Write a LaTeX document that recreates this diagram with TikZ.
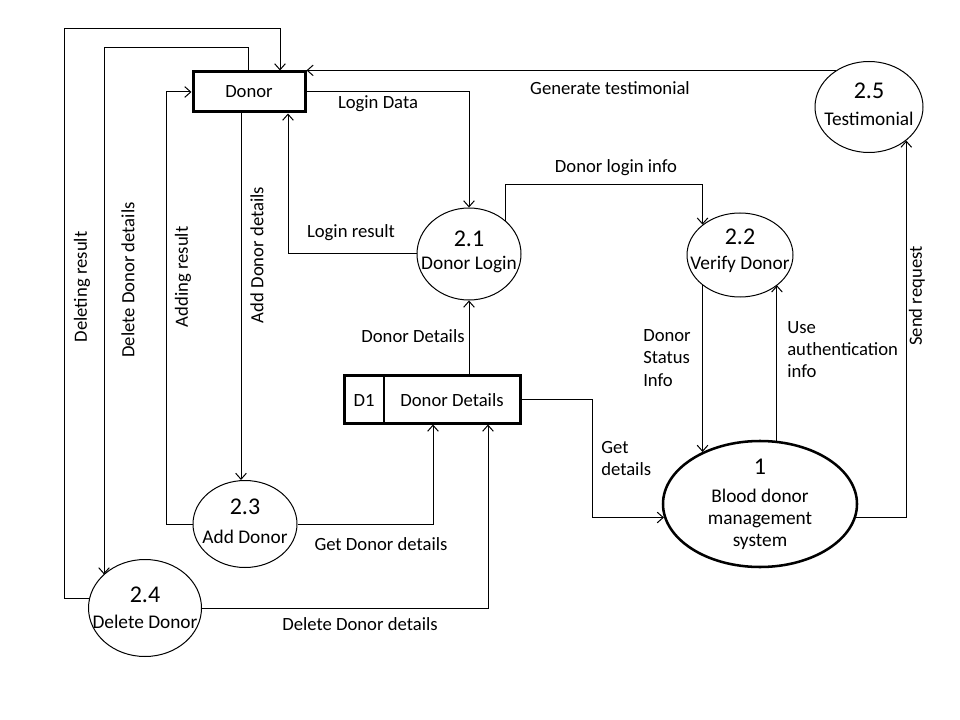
\documentclass[tikz,border=0pt]{standalone}
\usepackage{fontspec}
\setmainfont{Carlito}
\usetikzlibrary{shapes.geometric,arrows.meta,calc}
\begin{document}
\begin{tikzpicture}[x=0.75pt,y=-0.75pt,
  lbl/.style={font=\fontsize{14}{17}\selectfont, inner sep=0pt},
  ptxt/.style={font=\fontsize{14.5}{17}\selectfont, inner sep=0pt},
  pnum/.style={font=\fontsize{18}{20}\selectfont, inner sep=0pt},
  proc/.style={ellipse, draw, line width=0.75pt, inner sep=0pt},
  ent/.style={draw, line width=2.25pt, inner sep=0pt},
  flow/.style={line width=0.75pt, -{Straight Barb[length=4.5pt,width=8pt]}},
  plainline/.style={line width=0.75pt}
]
\useasboundingbox (0,0) rectangle (960,720);
\fill[white] (0,0) rectangle (960,720);

% entities and store
\node[ent, minimum width=84pt, minimum height=30pt] (Donor) at (249,92) {};
\node[lbl] (DonorT) at (249,92) {Donor};
\node[ent, minimum width=132pt, minimum height=36pt] (D1) at (432,399) {};
\draw[line width=1pt] (384,375) -- (384,423);
\node[lbl] (D1a) at (364,400) {D1};
\node[lbl] (D1b) at (452,400) {Donor Details};

% processes
\node[proc, minimum width=78pt, minimum height=69pt] (d21) at (469,254) {};
\node[pnum] (d21n) at (469,239) {2.1};
\node[ptxt] (d21t) at (469,265) {Donor Login};

\node[proc, minimum width=79.5pt, minimum height=63pt] (d22) at (740,255) {};
\node[pnum] (d22n) at (740,237) {2.2};
\node[ptxt] (d22t) at (740,264) {Verify Donor};

\node[proc, minimum width=81pt, minimum height=68.25pt] (d25) at (869,107) {};
\node[pnum] (d25n) at (869,91) {2.5};
\node[ptxt] (d25t) at (869,119) {Testimonial};

\node[proc, line width=1.9pt, minimum width=145.5pt, minimum height=94.5pt] (d1) at (760,504) {};
\node[pnum] (d1n) at (760,467) {1};
\node[ptxt, align=center, font=\fontsize{14.5}{16.5}\selectfont] (d1t) at (760,519) {Blood donor\\management\\system};

\node[proc, minimum width=78pt, minimum height=65.25pt] (d23) at (245,524) {};
\node[pnum] (d23n) at (245,507) {2.3};
\node[ptxt] (d23t) at (245,537) {Add Donor};

\node[proc, minimum width=84.75pt, minimum height=72.75pt] (d24) at (145,608) {};
\node[pnum] (d24n) at (145,595) {2.4};
\node[ptxt] (d24t) at (145,622) {Delete Donor};

% helper coordinates
\coordinate (cX104) at (104,48);
\coordinate (cA) at ($(Donor.south)+(-8,0)$);
\coordinate (cB) at (0,185);
\coordinate (cC) at (592,0);

% connectors
\draw[flow] (d24.170) -| (64,29) -| ($(Donor.north)+(31,0)$);
\draw[flow] ($(Donor.north)+(-1,0)$) |- (cX104) -- (cX104 |- d24.141);
\draw[flow] (d23.west) -| ($(Donor.west)+(-25,0)$) -- (Donor.west);
\draw[flow] (cA) -- (cA |- d23.north);
\draw[flow] (d21.west) -| ($(Donor.south)+(39,0)$);
\draw[flow] (Donor.east) -| (d21.north);
\draw[flow] (d25.132) -- (d25.132 -| Donor.east);
\draw[flow] (d21.42) |- (cB -| d22.141) -- (d22.141);
\draw[flow] (d22.219) -- (d22.219 |- d1.138);
\draw[flow] (d1.75) -- (d1.75 |- d22.321);
\draw[flow] (d1.352) -| (d25.318);
\draw[flow] ($(D1.north)+(37,0)$) -- (d21.south);
\draw[flow] (d23.east) -| ($(D1.south)+(1,0)$);
\draw[flow] (d24.east) -| ($(D1.south)+(56,0)$);
\draw[flow] (D1.east) -| (cC |- d1.188) -- (d1.188);

% labels
\node[lbl] (lLD) at (378,104) {Login Data};
\node[lbl] (lLR) at (351,233) {Login result};
\node[lbl] (lDLI) at (616,168) {Donor login info};
\node[lbl] (lGT) at (610,88) {Generate testimonial};
\node[lbl] (lDD) at (413,336) {Donor Details};
\node[lbl] (lGDD) at (381,544) {Get Donor details};
\node[lbl] (lDDD) at (360,624) {Delete Donor details};
\node[lbl, align=left, anchor=west, font=\fontsize{14}{16.5}\selectfont] (lGD) at (601,459) {Get\\details};
\node[lbl, align=left, anchor=west, font=\fontsize{14}{16.8}\selectfont] (lDSI) at (643,358) {Donor\\Status\\Info};
\node[lbl, align=left, anchor=west, font=\fontsize{14}{16.5}\selectfont] (lUAI) at (787,350) {Use\\authentication\\info};
\node[lbl, rotate=90] (lDR) at (82,287) {Deleting result};
\node[lbl, rotate=90] (lDelD) at (128,280) {Delete Donor details};
\node[lbl, rotate=90] (lAR) at (183,277) {Adding result};
\node[lbl, rotate=90] (lADD) at (257,255) {Add Donor details};
\node[lbl, rotate=90] (lSR) at (917,296) {Send request};
\end{tikzpicture}
\end{document}
